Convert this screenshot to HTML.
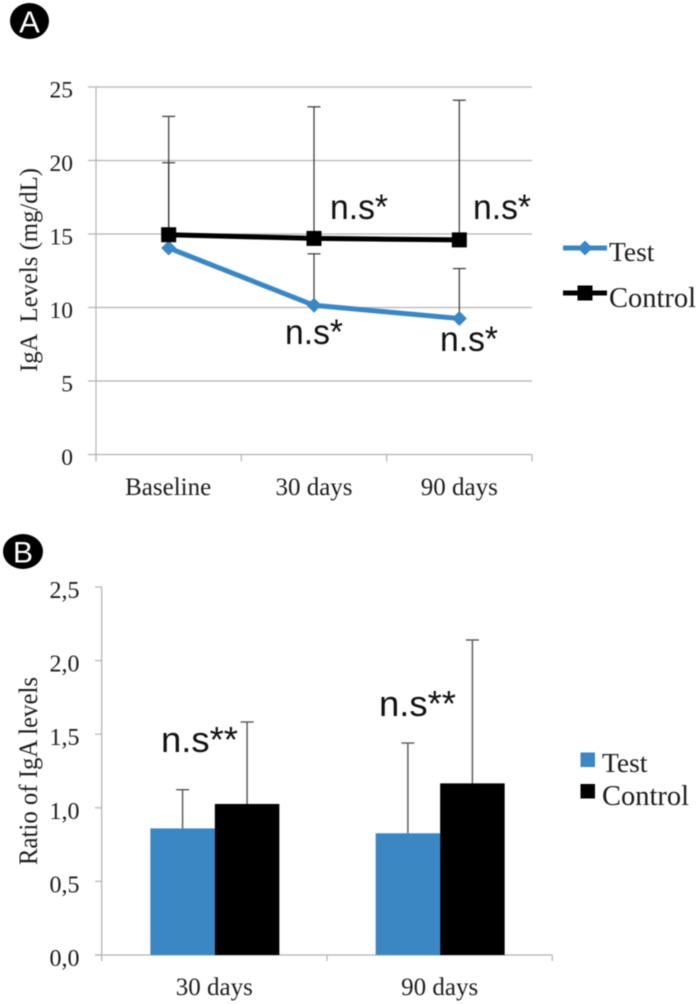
<!DOCTYPE html>
<html lang="en">
<head>
<meta charset="utf-8">
<title>IgA levels chart</title>
<style>
html,body{margin:0;padding:0;background:#fff;}
svg{display:block;filter:blur(0.45px);}
.serif{font-family:"Liberation Serif",serif;fill:#1c1c1c;}
.sans{font-family:"Liberation Sans",sans-serif;fill:#111;}
</style>
</head>
<body>
<svg id="fig" xmlns="http://www.w3.org/2000/svg" width="700" height="1004" viewBox="0 0 700 1004">
  <rect x="0" y="0" width="700" height="1004" fill="#fff"/>
  <g id="panelA"></g>
  <g id="panelB"></g>

  <g>
    <ellipse cx="29.5" cy="21" rx="19.5" ry="18" fill="#000"/>
    <text x="29.5" y="32.5" text-anchor="middle" font-family="Liberation Sans, sans-serif" font-size="31" fill="#fff">A</text>
  </g>
  <g>
    <ellipse cx="23" cy="551.5" rx="20" ry="17.5" fill="#000"/>
    <text x="23" y="562.5" text-anchor="middle" font-family="Liberation Sans, sans-serif" font-size="30" fill="#fff">B</text>
  </g>

  <text class="serif" transform="translate(37,372) rotate(-90)" font-size="25.5" textLength="204" lengthAdjust="spacingAndGlyphs" xml:space="preserve">IgA  Levels (mg/dL)</text>
  <text class="serif" transform="translate(37,865) rotate(-90)" font-size="26" textLength="188" lengthAdjust="spacingAndGlyphs">Ratio of IgA levels</text>

  <g>
    <text class="sans" x="330" y="219" font-size="35" textLength="58" lengthAdjust="spacingAndGlyphs">n.s*</text>
    <text class="sans" x="473" y="219" font-size="35" textLength="58" lengthAdjust="spacingAndGlyphs">n.s*</text>
    <text class="sans" x="285" y="344" font-size="35" textLength="58" lengthAdjust="spacingAndGlyphs">n.s*</text>
    <text class="sans" x="440" y="351" font-size="35" textLength="58" lengthAdjust="spacingAndGlyphs">n.s*</text>
  </g>
  <g>
    <text class="sans" x="161" y="752" font-size="36" textLength="77" lengthAdjust="spacingAndGlyphs">n.s**</text>
    <text class="sans" x="379" y="716" font-size="36" textLength="77" lengthAdjust="spacingAndGlyphs">n.s**</text>
  </g>

  <g>
    <g>
      <line x1="563" y1="248" x2="607" y2="248" stroke="#3a87c4" stroke-width="5"/>
      <polygon points="585,240.5 592.5,248 585,255.5 577.5,248" fill="#3a87c4"/>
      <text class="serif" x="609" y="261" font-size="27.5">Test</text>
    </g>
    <g>
      <line x1="563" y1="293" x2="607" y2="293" stroke="#000" stroke-width="5"/>
      <rect x="577.5" y="285.5" width="15" height="15" fill="#000"/>
      <text class="serif" x="609" y="307" font-size="28.5">Control</text>
    </g>
  </g>
  <g>
    <g>
      <rect x="580.5" y="752.5" width="14.5" height="14.5" fill="#3a87c4"/>
      <text class="serif" x="602" y="772" font-size="27.5">Test</text>
    </g>
    <g>
      <rect x="580.5" y="784" width="14.5" height="14.5" fill="#000"/>
      <text class="serif" x="602" y="805" font-size="28.5">Control</text>
    </g>
  </g>
</svg>
<script>
// Panel A data
const lineCategories = ['Baseline', '30 days', '90 days'];
const lineTicks = [0, 5, 10, 15, 20, 25];
const testLevels = [14.05, 10.15, 9.25];
const controlLevels = [14.95, 14.7, 14.6];
const testLevelUpper = [19.85, 13.65, 12.65];
const controlLevelUpper = [23.0, 23.65, 24.1];

// Panel B data
const barCategories = ['30 days', '90 days'];
const barTicks = ['0,0', '0,5', '1,0', '1,5', '2,0', '2,5'];
const testRatios = [0.86, 0.827];
const controlRatios = [1.026, 1.166];
const testRatioUpper = [1.123, 1.44];
const controlRatioUpper = [1.583, 2.14];

const NS = 'http://www.w3.org/2000/svg';
const BLUE = '#3a87c4';
const GRID = '#b4b4b4';

function mk(parent, tag, geometry, content) {
  const el = document.createElementNS(NS, tag);
  for (const k in geometry) el.setAttribute(k, geometry[k]);
  if (content !== undefined) el.textContent = content;
  parent.appendChild(el);
  return el;
}

// ---------- Panel A ----------
const a = document.getElementById('panelA');
const ax = { left: 96, right: 532, top: 87, bottom: 454.5, max: 25 };
const ay = v => ax.bottom - (v / ax.max) * (ax.bottom - ax.top);
const aBand = (ax.right - ax.left) / lineCategories.length;
const acx = i => ax.left + aBand * (i + 0.5);

lineTicks.forEach(t => {
  const grid = mk(a, 'line', { x1: 88, x2: ax.right, y1: ay(t), y2: ay(t), stroke: GRID, 'stroke-width': 1.2 });
  
  
  const label = mk(a, 'text', { x: 73, y: ay(t) + 10.5, 'text-anchor': 'end', 'font-size': 23.5, class: 'serif' }, String(t));
  
  
});

const aAxis = mk(a, 'line', { x1: ax.left, x2: ax.left, y1: ax.top, y2: ax.bottom + 7, stroke: GRID, 'stroke-width': 1.2 });



for (let i = 0; i <= lineCategories.length; i++) {
  const tick = mk(a, 'line', { x1: ax.left + aBand * i, x2: ax.left + aBand * i, y1: ax.bottom, y2: ax.bottom + 7, stroke: GRID, 'stroke-width': 1.2 });
  
  
}

lineCategories.forEach((c, i) => {
  const label = mk(a, 'text', { x: acx(i) - (i === 0 ? 0.5 : 0), y: 495, 'text-anchor': 'middle', 'font-size': 25, class: 'serif' }, c);
  
  
});

function whisker(parent, x, yFrom, yTo, color, width, name) {
  const stem = mk(parent, 'line', { x1: x, x2: x, y1: yFrom, y2: yTo, stroke: color, 'stroke-width': width });
  
  
  const cap = mk(parent, 'line', { x1: x - 6.5, x2: x + 6.5, y1: yTo, y2: yTo, stroke: color, 'stroke-width': width });
  
  
}

lineCategories.forEach((c, i) => {
  whisker(a, acx(i), ay(testLevels[i]), ay(testLevelUpper[i]), '#333', 1.2, 'test-error-bar-' + i);
  whisker(a, acx(i), ay(controlLevels[i]), ay(controlLevelUpper[i]), '#333', 1.2, 'control-error-bar-' + i);
});

const testLine = mk(a, 'polyline', { points: testLevels.map((v, i) => acx(i) + ',' + ay(v)).join(' '), fill: 'none', stroke: BLUE, 'stroke-width': 5 });



const controlLine = mk(a, 'polyline', { points: controlLevels.map((v, i) => acx(i) + ',' + ay(v)).join(' '), fill: 'none', stroke: '#000', 'stroke-width': 5 });



testLevels.forEach((v, i) => {
  const x = acx(i), y = ay(v), r = 7.5;
  const p = mk(a, 'polygon', { points: [x, y - r, x + r, y, x, y + r, x - r, y].join(' '), fill: BLUE });
  
  
});

controlLevels.forEach((v, i) => {
  const p = mk(a, 'rect', { x: acx(i) - 7.5, y: ay(v) - 7.5, width: 15, height: 15, fill: '#000' });
  
  
});

// ---------- Panel B ----------
const b = document.getElementById('panelB');
const bx = { left: 101.7, right: 552.3, top: 587, bottom: 955, max: 2.5 };
const by = v => bx.bottom - (v / bx.max) * (bx.bottom - bx.top);
const bBand = (bx.right - bx.left) / barCategories.length;
const bcx = i => bx.left + bBand * (i + 0.5) + 0.5;
const barW = 64.5;

const bYAxis = mk(b, 'line', { x1: bx.left, x2: bx.left, y1: bx.top, y2: bx.bottom + 6, stroke: GRID, 'stroke-width': 1.3 });



const bXAxis = mk(b, 'line', { x1: 95, x2: bx.right, y1: bx.bottom, y2: bx.bottom, stroke: GRID, 'stroke-width': 1.3 });



barTicks.forEach((t, i) => {
  const v = i * 0.5;
  const tick = mk(b, 'line', { x1: 95, x2: bx.left, y1: by(v), y2: by(v), stroke: GRID, 'stroke-width': 1.2 });
  
  
  const label = mk(b, 'text', { x: 79.5, y: by(v) + 11, 'text-anchor': 'end', 'font-size': 24, class: 'serif' }, t);
  
  
});

for (let i = 1; i <= barCategories.length; i++) {
  const tick = mk(b, 'line', { x1: bx.left + bBand * i, x2: bx.left + bBand * i, y1: bx.bottom, y2: bx.bottom + 6, stroke: GRID, 'stroke-width': 1.2 });
  
  
}

barCategories.forEach((c, i) => {
  const cx = bcx(i);
  whisker(b, cx - barW / 2, by(testRatios[i]), by(testRatioUpper[i]), '#555', 1.4, 'ratio-test-error-bar-' + i);
  whisker(b, cx + barW / 2, by(controlRatios[i]), by(controlRatioUpper[i]), '#555', 1.4, 'ratio-control-error-bar-' + i);

  const t = mk(b, 'rect', { x: cx - barW, y: by(testRatios[i]), width: barW, height: bx.bottom - by(testRatios[i]), fill: BLUE });
  
  

  const k = mk(b, 'rect', { x: cx, y: by(controlRatios[i]), width: barW, height: bx.bottom - by(controlRatios[i]), fill: '#000' });
  
  

  const label = mk(b, 'text', { x: cx - 0.5, y: 995, 'text-anchor': 'middle', 'font-size': 25, class: 'serif' }, c);
  
  
});
</script>
</body>
</html>
